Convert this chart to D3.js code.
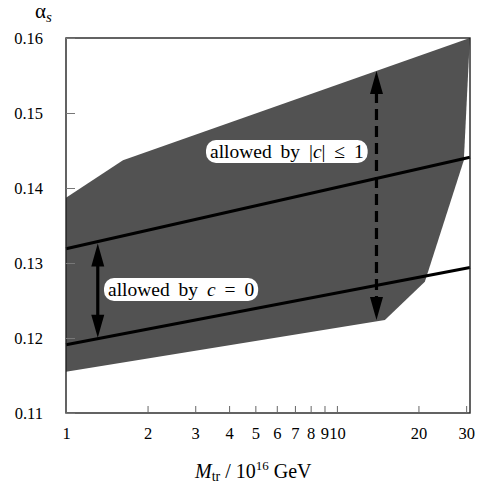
<!DOCTYPE html>
<html><head><meta charset="utf-8">
<script src="https://cdn.jsdelivr.net/npm/d3@7"></script>
<style>
html,body{margin:0;padding:0;background:#fff;}
svg{display:block;font-family:"Liberation Serif","DejaVu Serif","Times New Roman",serif;}
</style></head>
<body>
<svg id="chart" width="485" height="484"></svg>
<script>
// ---- data ----
const xTicks = [1, 2, 3, 4, 5, 6, 7, 8, 9, 10, 20, 30];
const yTicks = [0.11, 0.12, 0.13, 0.14, 0.15, 0.16];
// allowed region (polygon), M in 1e16 GeV, alpha_s
const regionM     = [1, 1.623, 30.96, 29.42, 21.12, 15.04, 1];
const regionAlpha = [0.1387, 0.1437, 0.1600, 0.1437, 0.1275, 0.1224, 0.1155];
// straight boundary lines
const lineM = [1, 31];
const upperAlpha = [0.1319, 0.1441];
const lowerAlpha = [0.1191, 0.1294];
// arrows
const solidArrowM = 1.31;
const dashedArrowM = 14;
const dashedArrowAlpha = [0.1224, 0.1556];
const labelUpper = ["allowed by |", "c", "| \u2264 1"];
const labelLower = ["allowed by ", "c", " = 0"];

const FONT = "Liberation Serif, DejaVu Serif, Times New Roman, serif";

// ---- scales ----
const svg = d3.select("#chart");
const x = d3.scaleLog().domain([1, 31]).range([66, 470]);
const y = d3.scaleLinear().domain([0.11, 0.16]).range([413, 38]);

// region
const region = regionM.map((m, i) => [x(m), y(regionAlpha[i])]);
svg.append("path")
  .attr("d", d3.line()(region) + "Z")
  .attr("fill", "#525252");

// lines
const lineGen = d3.line().x(d => x(d[0])).y(d => y(d[1]));
[upperAlpha, lowerAlpha].forEach(a => {
  svg.append("path")
    .attr("d", lineGen(lineM.map((m, i) => [m, a[i]])))
    .attr("stroke", "#000").attr("stroke-width", 3.2).attr("fill", "none");
});

// helper: value of line at M (linear in log M)
function lineAt(a, m) {
  const t = (Math.log(m) - Math.log(lineM[0])) / (Math.log(lineM[1]) - Math.log(lineM[0]));
  return a[0] + t * (a[1] - a[0]);
}

function doubleArrow(px, yTop, yBot, dashed) {
  const hl = 23, hw = 6.5;
  svg.append("line")
    .attr("x1", px).attr("x2", px)
    .attr("y1", yTop + hl - 2).attr("y2", yBot - hl + 2)
    .attr("stroke", "#000").attr("stroke-width", 3.2)
    .attr("stroke-dasharray", dashed ? "11,6" : null);
  svg.append("path")
    .attr("d", `M${px},${yTop}L${px - hw},${yTop + hl}L${px + hw},${yTop + hl}Z`)
    .attr("fill", "#000");
  svg.append("path")
    .attr("d", `M${px},${yBot}L${px - hw},${yBot - hl}L${px + hw},${yBot - hl}Z`)
    .attr("fill", "#000");
}
doubleArrow(x(solidArrowM), y(lineAt(upperAlpha, solidArrowM)) + 2, y(lineAt(lowerAlpha, solidArrowM)) - 1, false);
doubleArrow(x(dashedArrowM), y(dashedArrowAlpha[1]), y(dashedArrowAlpha[0]), true);

// labels with rounded white boxes
function label(parts, tx, ty) {
  const g = svg.append("g");
  const rect = g.append("rect").attr("fill", "#fff");
  const t = g.append("text").attr("x", tx).attr("y", ty)
    .attr("font-family", FONT).attr("font-size", 19.5)
    .attr("word-spacing", 4).attr("fill", "#000");
  parts.forEach((p, i) => {
    t.append("tspan").text(p).attr("font-style", i === 1 ? "italic" : null);
  });
  const bb = t.node().getBBox();
  rect.attr("x", bb.x - 4).attr("y", ty - 18)
    .attr("width", bb.width + 8).attr("height", 23)
    .attr("rx", 10).attr("ry", 10);
}
label(labelUpper, 210, 158);
label(labelLower, 108, 296);

// frame
svg.append("rect")
  .attr("x", x.range()[0]).attr("y", y.range()[1])
  .attr("width", x.range()[1] - x.range()[0])
  .attr("height", y.range()[0] - y.range()[1])
  .attr("fill", "none").attr("stroke", "#222").attr("stroke-width", 1.4);

// axes
const xAxis = svg.append("g").attr("transform", `translate(0,${y.range()[0]})`)
  .call(d3.axisBottom(x).tickValues(xTicks).tickFormat(d3.format("d"))
    .tickSize(-7).tickPadding(14));
xAxis.attr("font-family", FONT);
xAxis.select(".domain").remove();
xAxis.selectAll("line").attr("stroke", "#666");
xAxis.selectAll("text").attr("font-size", 16.5).attr("fill", "#000")
  .attr("font-family", FONT);

const yAxis = svg.append("g").attr("transform", `translate(${x.range()[0]},0)`)
  .call(d3.axisLeft(y).tickValues(yTicks).tickFormat(d3.format(".2f"))
    .tickSize(-9).tickPadding(23));
yAxis.attr("font-family", FONT);
yAxis.select(".domain").remove();
yAxis.selectAll("line").attr("stroke", "#777");
yAxis.selectAll("text").attr("font-size", 16.5).attr("fill", "#000")
  .attr("font-family", FONT);

// axis titles
const xt = svg.append("text").attr("x", 195).attr("y", 478)
  .attr("font-family", FONT).attr("font-size", 20).attr("fill", "#000");
xt.append("tspan").text("M").attr("font-style", "italic");
xt.append("tspan").text("tr").attr("font-size", 14).attr("dy", 3);
xt.append("tspan").text(" / 10").attr("dy", -3);
xt.append("tspan").text("16").attr("font-size", 13).attr("dy", -8);
xt.append("tspan").text(" GeV").attr("dy", 8);

const yt = svg.append("text").attr("x", 35).attr("y", 18)
  .attr("font-family", FONT).attr("font-size", 21).attr("fill", "#000");
yt.append("tspan").text("\u03b1");
yt.append("tspan").text("s").attr("font-style", "italic").attr("font-size", 15).attr("dy", 4);
</script>
</body></html>
